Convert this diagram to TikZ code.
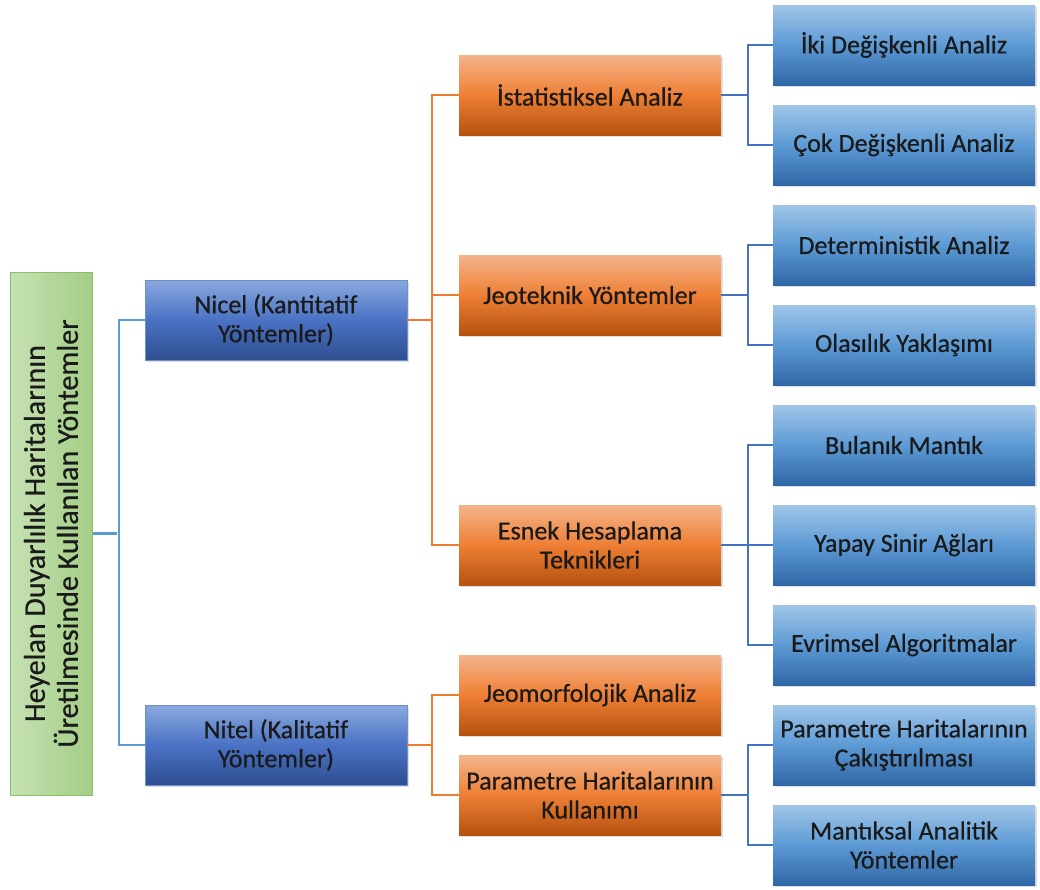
\documentclass[tikz,border=0pt]{standalone}
\usepackage{fontspec}
\setmainfont{Carlito}
\newfontfamily\boxfont{Carlito}[FakeBold=0.6]
\usetikzlibrary{shadows}
\definecolor{txt}{HTML}{1A1A1A}
\definecolor{cA}{HTML}{5B9BD5}
\definecolor{cO}{HTML}{ED7D31}
\definecolor{cB}{HTML}{4472C4}
\definecolor{oneT}{HTML}{8AA9DE}
\definecolor{oneM}{HTML}{4A72C4}
\definecolor{oneB}{HTML}{2E4E90}
\definecolor{oneD}{HTML}{6F8FCC}
\definecolor{twoT}{HTML}{F4B48A}
\definecolor{twoM}{HTML}{EE7F35}
\definecolor{twoB}{HTML}{B5520F}
\definecolor{thrT}{HTML}{A0C6E8}
\definecolor{thrM}{HTML}{5C9AD5}
\definecolor{thrB}{HTML}{2F67A6}
\definecolor{grL}{HTML}{C6E1B2}
\definecolor{grR}{HTML}{A3CE86}
\definecolor{grD}{HTML}{8CC068}
\tikzset{
  base/.style={rectangle, minimum width=262pt, minimum height=80pt, inner sep=0pt, align=center,
    text=txt, font=\boxfont\fontsize{26}{29}\selectfont,
    drop shadow={opacity=0.25, shadow xshift=1.5pt, shadow yshift=-1.5pt}},
  lvlone/.style={base, top color=oneT, bottom color=oneB, middle color=oneM,
    draw=oneD, line width=0.6pt},
  lvltwo/.style={base, top color=twoT, bottom color=twoB, middle color=twoM},
  lvlthree/.style={base, top color=thrT, bottom color=thrB, middle color=thrM},
  rootbox/.style={rectangle, minimum width=82pt, minimum height=523pt, inner sep=0pt,
    left color=grL, right color=grR, draw=grD, line width=1pt},
  conA/.style={draw=cA, line width=2.4pt},
  conO/.style={draw=cO, line width=2.4pt},
  conB/.style={draw=cB, line width=2.4pt},
}
\begin{document}
\begin{tikzpicture}[x=1pt, y=-1pt]
\useasboundingbox (0,0) rectangle (1040,889);
% root
\node[rootbox] (root) at (51,533.5) {};
\node[rotate=90, align=center, text=txt, font=\boxfont\fontsize{30}{33}\selectfont] (roottext) at (root.center)
  {Heyelan Duyarlılık Haritalarının\\Üretilmesinde Kullanılan Yöntemler};
% level one
\node[lvlone] (nicel) at (276,320) {Nicel (Kantitatif\\Yöntemler)};
\node[lvlone] (nitel) at (276,745) {Nitel (Kalitatif\\Yöntemler)};
% level two
\node[lvltwo] (ist) at (590,95) {İstatistiksel Analiz};
\node[lvltwo] (jeo) at (590,295) {Jeoteknik Yöntemler};
\node[lvltwo] (esn) at (590,545) {Esnek Hesaplama\\Teknikleri};
\node[lvltwo] (jmf) at (590,695) {Jeomorfolojik Analiz};
\node[lvltwo] (par) at (590,795) {Parametre Haritalarının\\Kullanımı};
% level three
\node[lvlthree] (iki) at (904,45) {İki Değişkenli Analiz};
\node[lvlthree] (cok) at (904,145) {Çok Değişkenli Analiz};
\node[lvlthree] (det) at (904,245) {Deterministik Analiz};
\node[lvlthree] (ola) at (904,345) {Olasılık Yaklaşımı};
\node[lvlthree] (bul) at (904,445) {Bulanık Mantık};
\node[lvlthree] (yap) at (904,545) {Yapay Sinir Ağları};
\node[lvlthree] (evr) at (904,645) {Evrimsel Algoritmalar};
\node[lvlthree] (pc) at (904,745) {Parametre Haritalarının\\Çakıştırılması};
\node[lvlthree] (mk) at (904,845) {Mantıksal Analitik\\Yöntemler};
% connectors level 0 -> 1
\coordinate (j0) at (117,533.5);
\draw[conA] (root.east) -- (j0);
\draw[conA] (nicel.west) -- ++(-26,0) |- (nitel.west);
% level 1 -> 2
\draw[conO] (nicel.east) -- ++(25,0);
\draw[conO] (ist.west) -- ++(-27,0) |- (esn.west);
\draw[conO] (jeo.west) -- ++(-27,0);
\draw[conO] (nitel.east) -- ++(25,0);
\draw[conO] (jmf.west) -- ++(-27,0) |- (par.west);
% level 2 -> 3
\draw[conB] (ist.east) -- ++(27,0);
\draw[conB] (iki.west) -- ++(-25,0) |- (cok.west);
\draw[conB] (jeo.east) -- ++(27,0);
\draw[conB] (det.west) -- ++(-25,0) |- (ola.west);
\draw[conB] (esn.east) -- (yap.west);
\draw[conB] (bul.west) -- ++(-25,0) |- (evr.west);
\draw[conB] (par.east) -- ++(27,0);
\draw[conB] (pc.west) -- ++(-25,0) |- (mk.west);
\end{tikzpicture}
\end{document}
